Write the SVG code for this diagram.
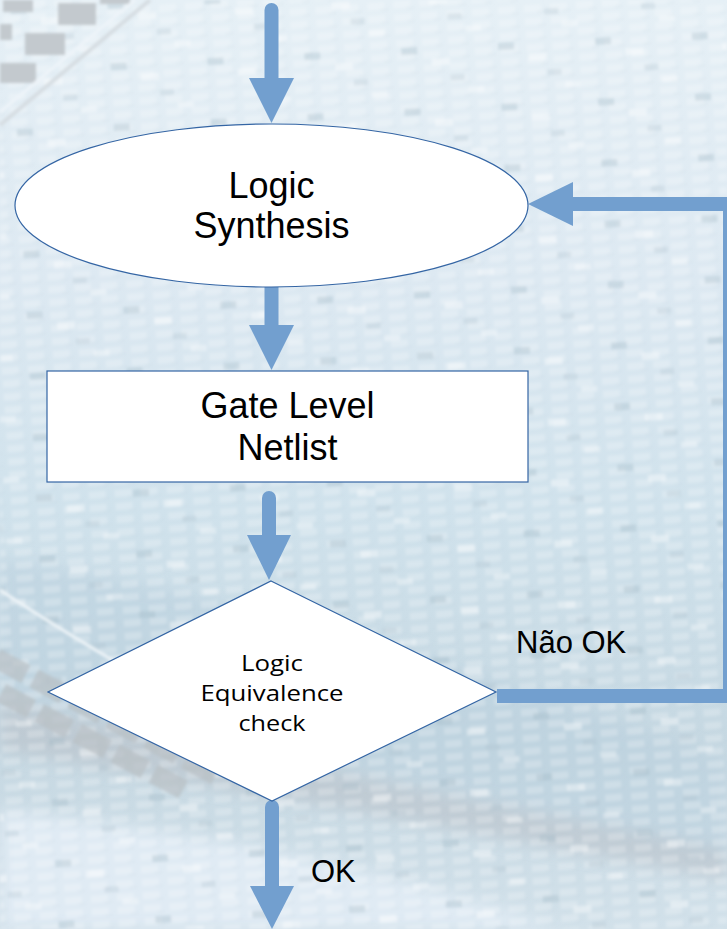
<svg xmlns="http://www.w3.org/2000/svg" width="727" height="929" viewBox="0 0 727 929">
  <defs>
    <style>
      .node { fill: #ffffff; stroke: #3465a4; stroke-width: 1.2; }
      .big { font-family: "Liberation Sans", Arial, sans-serif; font-size: 36px; fill: #000; text-anchor: middle; }
      .small { font-family: "Open Sans", "Noto Sans", sans-serif; font-size: 22px; fill: #000; text-anchor: middle; }
      .label { font-family: "Liberation Sans", Arial, sans-serif; font-size: 31px; fill: #000; }
      .wire { fill: none; stroke: #729fcf; stroke-width: 14; }
      .head { fill: #729fcf; }
    </style>
    <linearGradient id="bgGrad" x1="0" y1="0" x2="0" y2="1">
      <stop offset="0" stop-color="#e6f0f6"/>
      <stop offset="0.3" stop-color="#dde9f2"/>
      <stop offset="0.55" stop-color="#d0e2ec"/>
      <stop offset="0.8" stop-color="#c6d8e2"/>
      <stop offset="1" stop-color="#d2e1ea"/>
    </linearGradient>
    <pattern id="dies" width="26" height="13" patternUnits="userSpaceOnUse" patternTransform="rotate(-4)">
      <rect x="2" y="3" width="17" height="7" fill="#ffffff" opacity="0.22"/>
      <rect x="15" y="9" width="8" height="3" fill="#9fb6c4" opacity="0.08"/>
    </pattern>
    <pattern id="spots" width="97" height="61" patternUnits="userSpaceOnUse" patternTransform="rotate(-3)">
      <rect x="10" y="8" width="16" height="7" fill="#9eb4c2" opacity="0.3"/>
      <rect x="58" y="37" width="14" height="6" fill="#a9bcc8" opacity="0.25"/>
      <rect x="40" y="20" width="18" height="7" fill="#ffffff" opacity="0.4"/>
      <rect x="75" y="50" width="16" height="6" fill="#ffffff" opacity="0.35"/>
    </pattern>
    <filter id="soft" x="-5%" y="-5%" width="110%" height="110%">
      <feGaussianBlur stdDeviation="1.8"/>
    </filter>
    <filter id="haze" x="-20%" y="-20%" width="140%" height="140%">
      <feGaussianBlur stdDeviation="8"/>
    </filter>
  </defs>

  <!-- wafer photo backdrop -->
  <g id="backdrop">
    <rect width="727" height="929" fill="url(#bgGrad)"/>
    <g filter="url(#haze)">
      <path d="M0,560 Q300,600 727,760 L727,860 Q350,760 0,700 Z" fill="#b9d0dd" opacity="0.5"/>
      <path d="M0,700 Q320,770 727,850 L727,880 Q330,805 0,750 Z" fill="#b8c0c6" opacity="0.55"/>
      <path d="M0,810 Q320,845 560,929 L0,929 Z" fill="#e0ebf4"/>
    </g>
    <g filter="url(#soft)">
      <rect width="727" height="929" fill="url(#dies)"/>
      <rect width="727" height="929" fill="url(#spots)"/>
      <!-- die rows along the upper-left wafer edge -->
      <g fill="#c3c9ce">
        <rect x="3" y="0" width="30" height="12"/>
        <rect x="58" y="3" width="38" height="22"/>
        <rect x="25" y="33" width="40" height="22"/>
        <rect x="0" y="24" width="12" height="16"/>
        <rect x="0" y="63" width="36" height="20"/>
        <rect x="100" y="-10" width="30" height="14"/>
      </g>
      <path d="M0,112 L135,0" fill="none" stroke="#eef4f9" stroke-width="3"/>
      <path d="M0,125 L150,0" fill="none" stroke="#d6dde2" stroke-width="4"/>
      <!-- die rows along the lower wafer edge -->
      <g transform="translate(0,640) rotate(28)" fill="#b9c0c5" opacity="0.7">
        <rect x="5" y="8" width="34" height="20"/>
        <rect x="48" y="8" width="34" height="20"/>
        <rect x="91" y="8" width="34" height="20"/>
        <rect x="134" y="8" width="34" height="20"/>
        <rect x="177" y="8" width="34" height="20"/>
        <rect x="220" y="8" width="34" height="20"/>
        <rect x="26" y="36" width="34" height="20"/>
        <rect x="69" y="36" width="34" height="20"/>
        <rect x="112" y="36" width="34" height="20"/>
        <rect x="155" y="36" width="34" height="20"/>
        <rect x="198" y="36" width="34" height="20"/>
      </g>
      <path d="M0,590 Q60,630 180,700" fill="none" stroke="#eef4f8" stroke-width="3"/>
    </g>
  </g>

  <!-- connectors -->
  <g id="connectors">
    <path class="wire" d="M271.5,10 V80" stroke-linecap="round"/>
    <polygon class="head" points="249,78 294,78 271.5,123"/>
    <path class="wire" d="M271.5,287 V327"/>
    <polygon class="head" points="249,325 294,325 271.5,370"/>
    <path class="wire" d="M269,498 V537" stroke-linecap="round"/>
    <polygon class="head" points="247,535 291,535 269,580"/>
    <path class="wire" d="M272,807 V888" stroke-linecap="round"/>
    <polygon class="head" points="250,886 294,886 272,929"/>
    <path class="wire" d="M497,696 H730 V204 H571"/>
    <polygon class="head" points="528,204 573,182 573,226"/>
  </g>

  <g id="logic-synthesis">
    <ellipse class="node" cx="271.5" cy="205.5" rx="256.5" ry="81.5"/>
    <text class="big" x="271.5" y="198">Logic</text>
    <text class="big" x="271.5" y="238">Synthesis</text>
  </g>

  <g id="gate-level-netlist">
    <rect class="node" x="47" y="371" width="481" height="111"/>
    <text class="big" x="287.5" y="418" font-size="37">Gate Level</text>
    <text class="big" x="287.5" y="460" font-size="37">Netlist</text>
  </g>

  <g id="equivalence-check">
    <polygon class="node" points="271,581 496,692 272,801 48,692"/>
    <text class="small" x="272" y="671" textLength="62" lengthAdjust="spacingAndGlyphs">Logic</text>
    <text class="small" x="272" y="701" textLength="143" lengthAdjust="spacingAndGlyphs">Equivalence</text>
    <text class="small" x="272" y="731" textLength="67" lengthAdjust="spacingAndGlyphs">check</text>
  </g>

  <g id="edge-labels">
    <text class="label" x="516" y="653">Não OK</text>
    <text class="label" x="311" y="882">OK</text>
  </g>
</svg>
